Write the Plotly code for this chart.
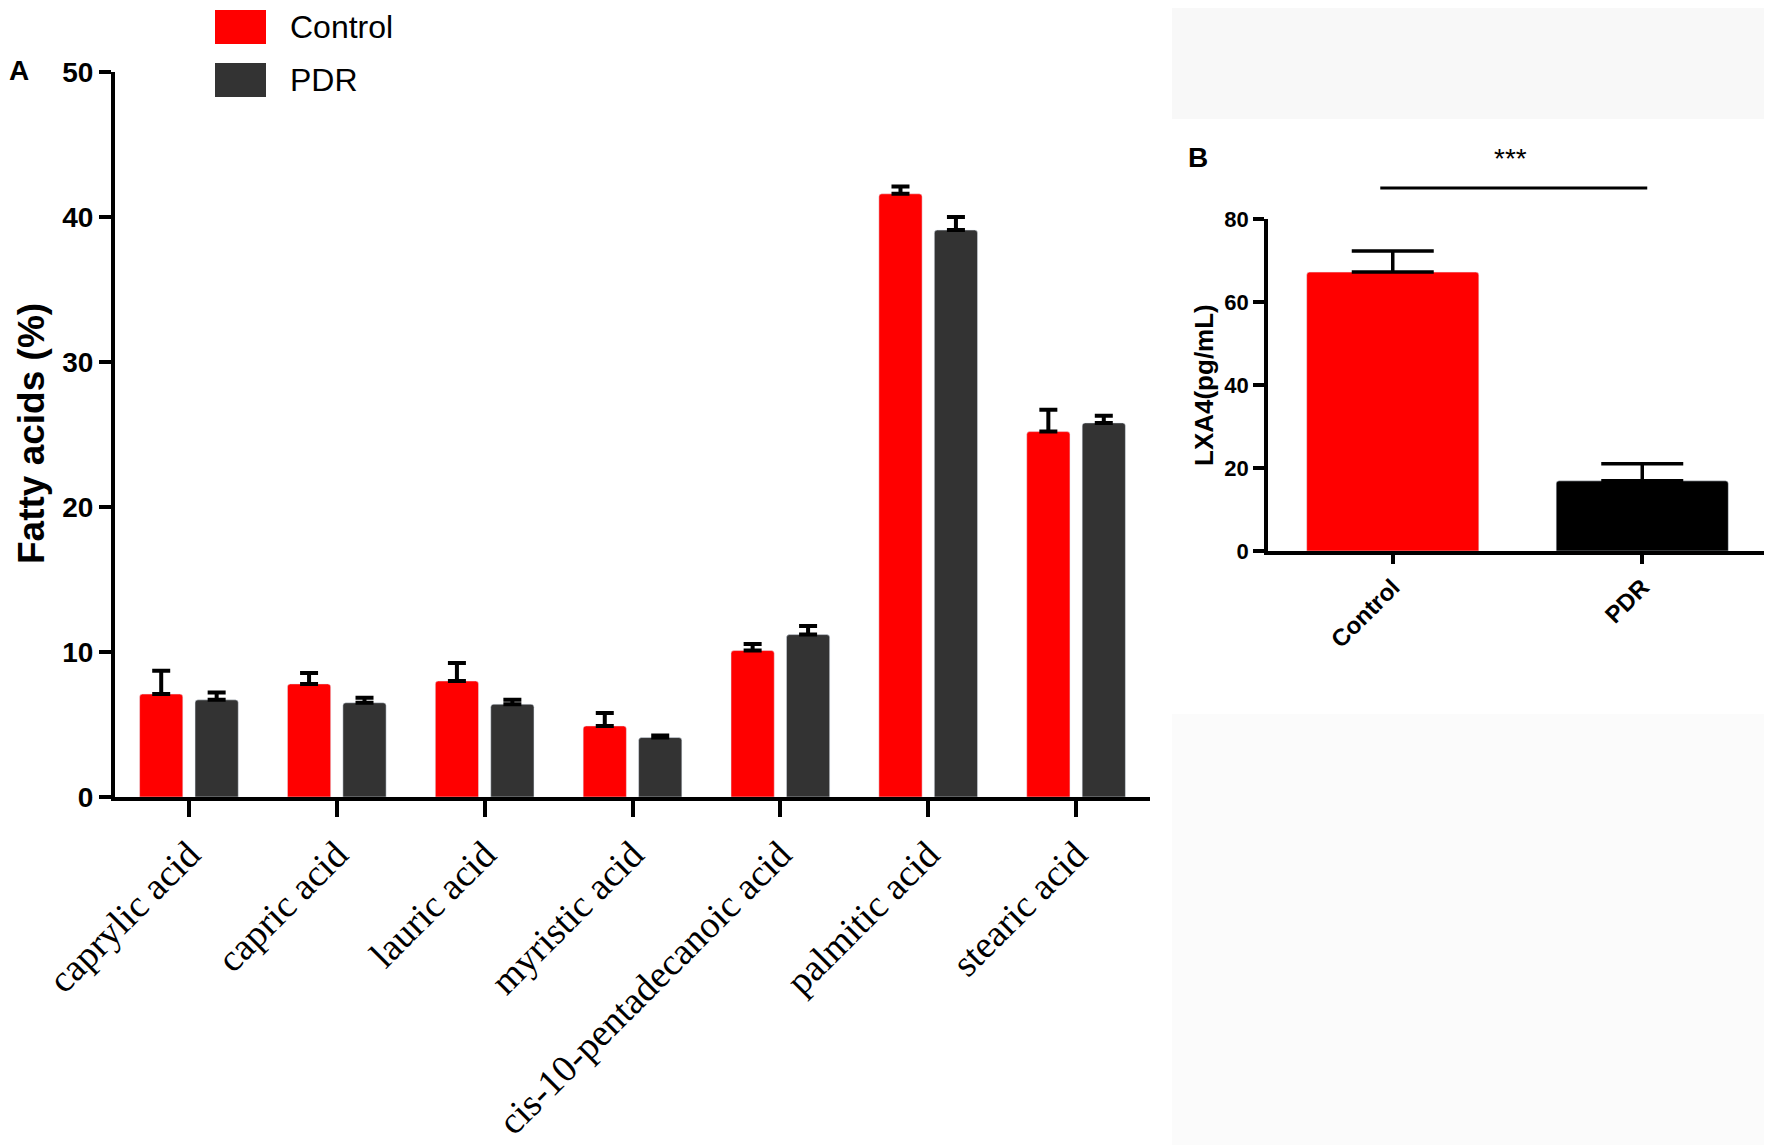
import plotly.graph_objects as go

# panel A: fatty acid composition (%)
acids = ['caprylic acid', 'capric acid', 'lauric acid', 'myristic acid',
         'cis-10-pentadecanoic acid', 'palmitic acid', 'stearic acid']
control_mean = [7.1, 7.8, 8.0, 4.9, 10.1, 41.6, 25.2]
control_err = [1.6, 0.75, 1.25, 0.9, 0.45, 0.5, 1.5]
pdr_mean = [6.7, 6.5, 6.4, 4.1, 11.2, 39.1, 25.8]
pdr_err = [0.5, 0.35, 0.3, 0.15, 0.6, 0.9, 0.5]

# panel B: LXA4 (pg/mL)
groups = ['Control', 'PDR']
lxa4_mean = [67.2, 16.9]
lxa4_err = [5.1, 4.1]
sig_label = '***'
sig_y = 87.5

RED = '#ff0000'
GREY = '#333333'
W, H = 1772, 1145
OFF = 8  # page body margin of the html output


def fx(p):
    return (p - OFF) / W


def fy(p):
    return 1 - (p - OFF) / H


xdomA = [fx(115), fx(1150)]
ydomA = [fy(797), fy(72)]
xdomB = [fx(1268), fx(1767)]
ydomB = [fy(551), fy(219)]
xrB = [-0.5, 1.5]
yrB = [0, 80]


def bx(v):
    return xdomB[0] + (v - xrB[0]) / (xrB[1] - xrB[0]) * (xdomB[1] - xdomB[0])


def by(v):
    return ydomB[0] + (v - yrB[0]) / (yrB[1] - yrB[0]) * (ydomB[1] - ydomB[0])


fig = go.Figure()

fig.add_trace(go.Bar(
    x=acids, y=control_mean, name=groups[0], marker_color=RED,
    marker_cornerradius=3, showlegend=False,
    error_y=dict(type='data', array=control_err, arrayminus=[0] * len(acids),
                 symmetric=False, color='black', thickness=4, width=9),
    xaxis='x', yaxis='y'))
fig.add_trace(go.Bar(
    x=acids, y=pdr_mean, name=groups[1], marker_color=GREY,
    marker_cornerradius=3, showlegend=False,
    error_y=dict(type='data', array=pdr_err, arrayminus=[0] * len(acids),
                 symmetric=False, color='black', thickness=4, width=9),
    xaxis='x', yaxis='y'))

fig.add_trace(go.Bar(
    x=groups, y=lxa4_mean, marker_color=[RED, 'black'], width=0.69,
    marker_cornerradius=3, showlegend=False,
    error_y=dict(type='data', array=lxa4_err, arrayminus=[0, 0],
                 symmetric=False, color='black', thickness=3.5, width=41),
    xaxis='x2', yaxis='y2'))

axis_common = dict(showline=True, linecolor='black', showgrid=False,
                   zeroline=False, ticks='outside', tickcolor='black',
                   automargin=False)

fig.update_layout(
    width=W, height=H, autosize=False,
    margin=dict(l=0, r=0, t=0, b=0, autoexpand=False),
    paper_bgcolor='white', plot_bgcolor='white',
    barmode='group', bargap=0.25, bargroupgap=0.22,
    font=dict(family='Liberation Sans', color='black'),
    xaxis=dict(axis_common, domain=xdomA, range=[-0.5, 6.5], anchor='y',
               linewidth=4, tickwidth=4, ticklen=16, tickangle=-45,
               tickfont=dict(family='Liberation Serif', size=38)),
    yaxis=dict(axis_common, domain=ydomA, range=[0, 50], anchor='x',
               linewidth=4, tickwidth=4, ticklen=12, dtick=10,
               tickfont=dict(size=28, weight='bold')),
    xaxis2=dict(axis_common, domain=xdomB, range=xrB, anchor='y2',
                linewidth=3.5, tickwidth=3.5, ticklen=9, tickangle=-45,
                tickfont=dict(size=24, weight='bold')),
    yaxis2=dict(axis_common, domain=ydomB, range=yrB, anchor='x2',
                linewidth=3.5, tickwidth=3.5, ticklen=11, dtick=20,
                tickfont=dict(size=22, weight='bold')),
)

# faint grey patches from the original composite
fig.add_shape(type='rect', xref='paper', yref='paper', layer='below',
              x0=fx(1172), x1=1, y0=fy(119), y1=1,
              fillcolor='#f8f8f8', line_width=0)
fig.add_shape(type='rect', xref='paper', yref='paper', layer='below',
              x0=fx(1172), x1=1, y0=0, y1=fy(714),
              fillcolor='#fbfbfb', line_width=0)

# legend for panel A
for i, (name, col) in enumerate(zip(groups, [RED, GREY])):
    yc = 27 + i * 53
    fig.add_shape(type='rect', xref='paper', yref='paper',
                  x0=fx(215), x1=fx(266), y0=fy(yc + 17), y1=fy(yc - 17),
                  fillcolor=col, line_width=0)
    fig.add_annotation(x=fx(288), y=fy(yc), xref='paper', yref='paper',
                       text=name, showarrow=False, xanchor='left', yanchor='middle',
                       font=dict(size=32))

# axis titles and panel letters
fig.add_annotation(x=fx(32), y=fy(434), xref='paper', yref='paper',
                   text='Fatty acids (%)', textangle=-90, showarrow=False,
                   xanchor='center', yanchor='middle',
                   font=dict(size=37, weight='bold'))
fig.add_annotation(x=fx(1204), y=fy(385), xref='paper', yref='paper',
                   text='LXA4(pg/mL)', textangle=-90, showarrow=False,
                   xanchor='center', yanchor='middle',
                   font=dict(size=26, weight='bold'))
fig.add_annotation(x=fx(19), y=fy(70), xref='paper', yref='paper',
                   text='A', showarrow=False, xanchor='center', yanchor='middle',
                   font=dict(size=28, weight='bold'))
fig.add_annotation(x=fx(1198), y=fy(158), xref='paper', yref='paper',
                   text='B', showarrow=False, xanchor='center', yanchor='middle',
                   font=dict(size=28, weight='bold'))

# significance bar in panel B
fig.add_shape(type='line', xref='paper', yref='paper',
              x0=bx(-0.05), x1=bx(1.02), y0=by(sig_y), y1=by(sig_y),
              line=dict(color='black', width=3))
fig.add_annotation(x=bx(0.47), y=by(sig_y + 7), xref='paper', yref='paper',
                   text=sig_label, showarrow=False, xanchor='center',
                   yanchor='middle', font=dict(size=28))

fig.write_html("out.html")
